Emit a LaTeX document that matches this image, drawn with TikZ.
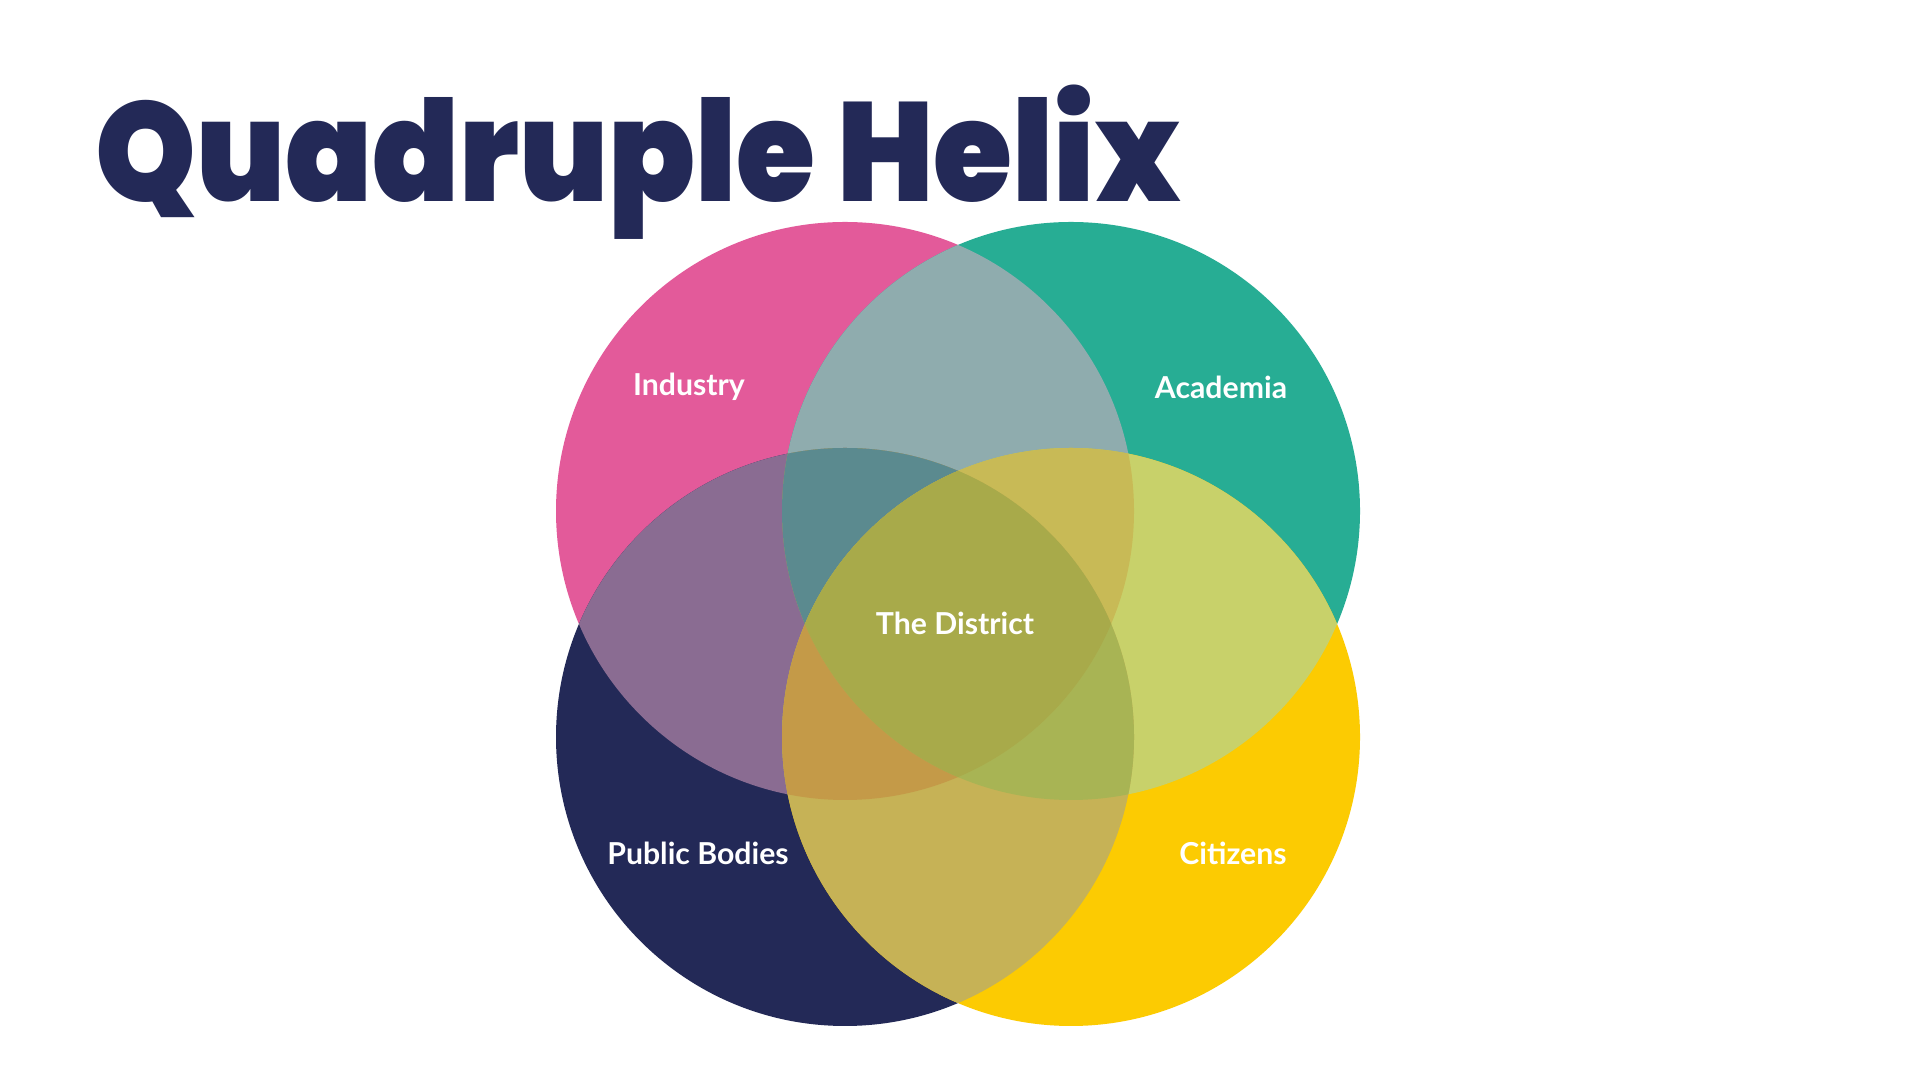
\documentclass[tikz,border=0pt]{standalone}
\usepackage{fontspec}
\setmainfont{Lato}
\newfontfamily\titlefont{Poppins Black}
\usetikzlibrary{positioning}

\definecolor{indpink}{HTML}{E35A9A}
\definecolor{acagreen}{HTML}{27AD94}
\definecolor{pubnavy}{HTML}{232957}
\definecolor{cityellow}{HTML}{FCCB02}
\definecolor{pgmix}{HTML}{8FACAE}
\definecolor{pnmix}{HTML}{8A6C92}
\definecolor{gymix}{HTML}{C8D16A}
\definecolor{nymix}{HTML}{C6B256}
\definecolor{pgnmix}{HTML}{5B8A8F}
\definecolor{pgymix}{HTML}{C8BA56}
\definecolor{pnymix}{HTML}{C49A48}
\definecolor{gnymix}{HTML}{A8B454}
\definecolor{allmix}{HTML}{A8AA4A}

\def\indc{(8.45,5.69) circle (2.89)}
\def\acac{(10.71,5.69) circle (2.89)}
\def\pubc{(8.45,3.43) circle (2.89)}
\def\citc{(10.71,3.43) circle (2.89)}

\begin{document}
\begin{tikzpicture}[
label/.style={text=white,font=\bfseries\fontsize{8.6}{10}\selectfont,inner sep=0pt}
]
\useasboundingbox (0,0) rectangle (19.2,10.8);
\fill[white] (0,0) rectangle (19.2,10.8);

% title
\node[anchor=base west,inner sep=0pt,text=pubnavy,xscale=0.91,transform shape,
  font=\titlefont\fontsize{40}{44}\selectfont] (title) at (0.95,8.78) {Quadruple Helix};

% single circles
\fill[indpink] \indc;
\fill[acagreen] \acac;
\fill[pubnavy] \pubc;
\fill[cityellow] \citc;

% pairs
\begin{scope}\clip \indc; \fill[pgmix] \acac; \end{scope}
\begin{scope}\clip \indc; \fill[pnmix] \pubc; \end{scope}
\begin{scope}\clip \indc; \fill[allmix] \citc; \end{scope}
\begin{scope}\clip \acac; \fill[allmix] \pubc; \end{scope}
\begin{scope}\clip \acac; \fill[gymix] \citc; \end{scope}
\begin{scope}\clip \pubc; \fill[nymix] \citc; \end{scope}

% triples
\begin{scope}\clip \indc; \clip \acac; \fill[pgnmix] \pubc; \end{scope}
\begin{scope}\clip \indc; \clip \acac; \fill[pgymix] \citc; \end{scope}
\begin{scope}\clip \indc; \clip \pubc; \fill[pnymix] \citc; \end{scope}
\begin{scope}\clip \acac; \clip \pubc; \fill[gnymix] \citc; \end{scope}

% all four
\begin{scope}\clip \indc; \clip \acac; \clip \pubc; \fill[allmix] \citc; \end{scope}

% labels
\node[label] (industry) at (6.89,6.93) {Industry};
\node[label] (academia) at (12.21,6.93) {Academia};
\node[label] (district) at (9.55,4.57) {The District};
\node[label] (public) at (6.98,2.27) {Public Bodies};
\node[label] (citizens) at (12.33,2.27) {Citizens};
\end{tikzpicture}
\end{document}
